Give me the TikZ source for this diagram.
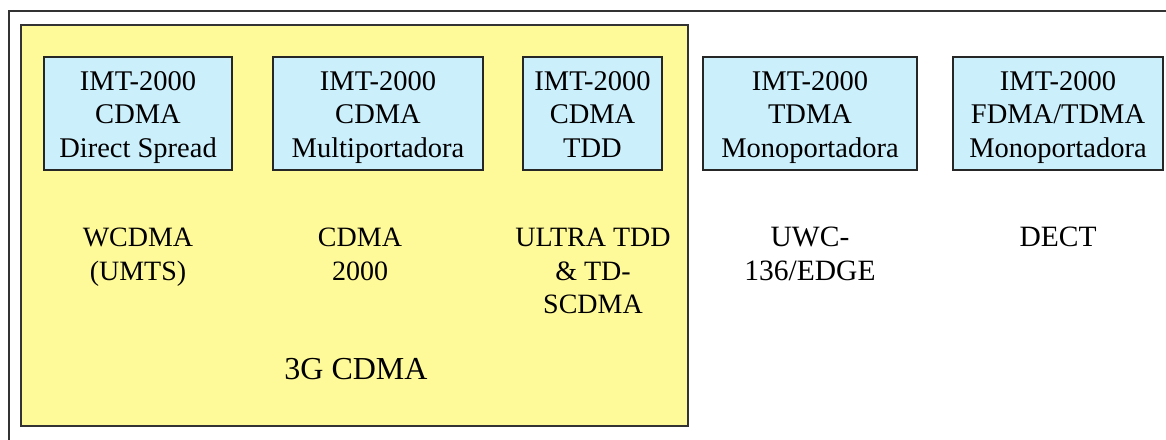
\documentclass[tikz,border=0pt]{standalone}
\usepackage{fontspec}
\setmainfont{Liberation Serif}
% fixed top and bottom of the three-line box texts
\newcommand\boxtop{\rule{0pt}{27.8pt}}
\newcommand\boxbottom{\rule[-7pt]{0pt}{7pt}}
\begin{document}
\begin{tikzpicture}[x=1pt,y=-1pt,
  frameline/.style={draw=black!80, line width=1.6pt},
  group/.style={draw=black!80, line width=1.4pt, fill=yellow!40},
  tech/.style={draw=black!85, line width=1.1pt, fill=cyan!20, inner sep=0pt,
    minimum height=113pt, align=center, font=\fontsize{28.5}{33.5}\selectfont},
  family/.style={inner sep=0pt, align=center, font=\fontsize{28}{33.5}\selectfont},
  widefamily/.style={family, font=\fontsize{29.5}{33.5}\selectfont},
  grouplabel/.style={inner sep=0pt, font=\fontsize{32}{36}\selectfont}]
\useasboundingbox (0,0) rectangle (1166,439);
\fill[white] (0,0) rectangle (1166,439);

% outer frame running off the page to the right and below
\draw[frameline] (9,450) -- (9,11) -- (1180,11);

% 3G CDMA group
\draw[group] (21,25) rectangle (688,426);

% radio interface boxes
\node[tech, minimum width=188pt] (ds) at (138,113.5)
  {\boxtop IMT-2000\\CDMA\\Direct Spread\boxbottom};
\node[tech, minimum width=210pt] (mc) at (378,113.5)
  {\boxtop IMT-2000\\CDMA\\Multiportadora\boxbottom};
\node[tech, minimum width=139pt] (tdd) at (592.5,113.5)
  {\boxtop IMT-2000\\CDMA\\TDD\boxbottom};
\node[tech, minimum width=214pt] (sc) at (810,113.5)
  {\boxtop IMT-2000\\TDMA\\Monoportadora\boxbottom};
\node[tech, minimum width=210pt] (fd) at (1058,113.5)
  {\boxtop IMT-2000\\FDMA/TDMA\\Monoportadora\boxbottom};

% standard families
\node[family, anchor=north] (wcdma) at (138,228) {WCDMA\\(UMTS)};
\node[family, anchor=north] (cdma2k) at (360,228) {CDMA\\2000};
\node[family, anchor=north] (ultra) at (593,228) {ULTRA TDD\\\& TD-\\SCDMA};
\node[widefamily, anchor=north] (uwc) at (810,227) {UWC-\\136/EDGE};
\node[widefamily, anchor=north] (dect) at (1058,227) {DECT};

\node[grouplabel] (g3) at (356,369) {3G CDMA};
\end{tikzpicture}
\end{document}
